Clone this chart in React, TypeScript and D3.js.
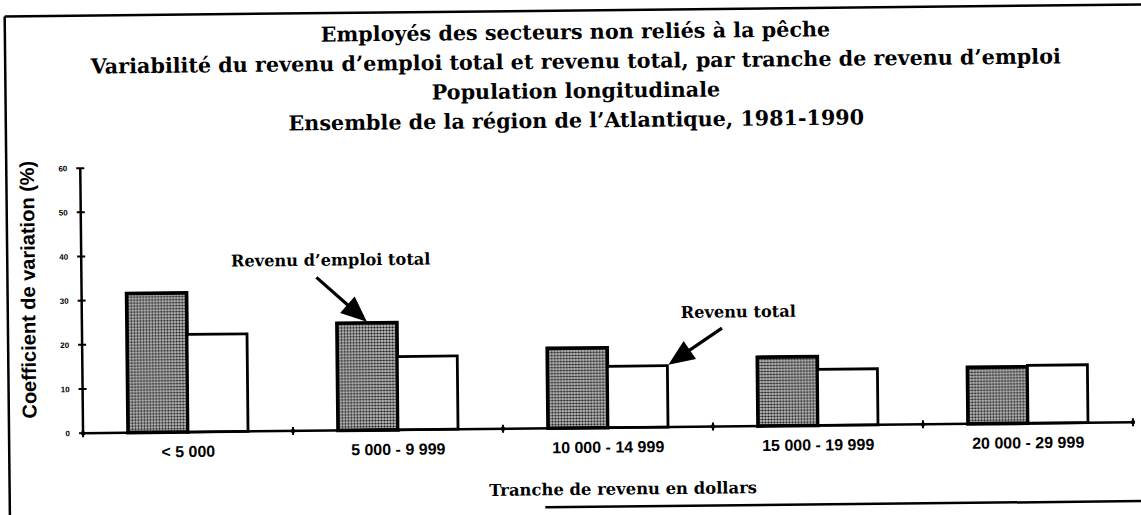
import React from "react";
import * as d3 from "d3";

const categories = ["< 5 000", "5 000 - 9 999", "10 000 - 14 999", "15 000 - 19 999", "20 000 - 29 999"];
const seriesKeys = ["emploi", "total"];
const revenuEmploiTotal = [31.5, 24.3, 18.1, 15.6, 12.8];
const revenuTotal = [22.1, 16.6, 13.9, 12.7, 13.1];
const yTicks = [0, 10, 20, 30, 40, 50, 60];
const titleLines = [
  "Employés des secteurs non reliés à la pêche",
  "Variabilité du revenu d’emploi total et revenu total, par tranche de revenu d’emploi",
  "Population longitudinale",
  "Ensemble de la région de l’Atlantique, 1981-1990",
];
const yAxisTitle = "Coefficient de variation (%)";
const xAxisTitle = "Tranche de revenu en dollars";
const annotEmploi = "Revenu d’emploi total";
const annotTotal = "Revenu total";

const W = 1141;
const H = 515;
const serif = "'DejaVu Serif', serif";
const sans = "'Liberation Sans', Arial, sans-serif";

function Arrow({ x1, y1, x2, y2 }: { x1: number; y1: number; x2: number; y2: number }) {
  const ang = Math.atan2(y2 - y1, x2 - x1);
  const len = 26;
  const hw = 11;
  const bx = x2 - len * Math.cos(ang);
  const by = y2 - len * Math.sin(ang);
  const px = -Math.sin(ang) * hw;
  const py = Math.cos(ang) * hw;
  return (
    <g>
      <line x1={x1} y1={y1} x2={bx + 2 * Math.cos(ang)} y2={by + 2 * Math.sin(ang)} stroke="#000" strokeWidth={3.2} />
      <polygon points={`${x2},${y2} ${bx + px},${by + py} ${bx - px},${by - py}`} fill="#000" />
    </g>
  );
}

export default function App() {
  const xLeft = 78.5, xRight = 1128.5, yBottom = 434, yTop = 169;
  const x = d3.scaleBand<string>().domain(categories).range([xLeft, xRight]).paddingInner(0.4286).paddingOuter(0.2143);
  const xs = d3.scaleBand<string>().domain(seriesKeys).range([0, x.bandwidth()]);
  const y = d3.scaleLinear().domain([0, 60]).range([yBottom, yTop]);
  const step = x.step();
  const gap = (step - x.bandwidth()) / 2;
  const boundaries = categories.map((c) => (x(c) as number) - gap).concat([xRight]);

  const data = categories.map((c, i) => ({ c, emploi: revenuEmploiTotal[i], total: revenuTotal[i] }));

  const g2x = (x(categories[1]) as number) + (xs("emploi") as number) + xs.bandwidth() / 2;
  const g2y = y(revenuEmploiTotal[1]);
  const g3x = (x(categories[2]) as number) + (xs("total") as number) + xs.bandwidth();
  const g3y = y(revenuTotal[2]);

  return (
    <svg width={W} height={H} style={{ position: "absolute", left: 0, top: 0, background: "#fff" }}>
      <defs>
        <pattern id="stip" width={3} height={3} patternUnits="userSpaceOnUse">
          <rect width={3} height={3} fill="#bdbdbd" />
          <circle cx={1.5} cy={1.5} r={1.1} fill="#111" />
        </pattern>
      </defs>
      <rect width={W} height={H} fill="#fff" />
      <g transform="rotate(-0.6)">
        {/* frame */}
        <line x1={4.5} y1={16.5} x2={1160} y2={16.5} stroke="#000" strokeWidth={2.5} />
        <line x1={4.5} y1={16.5} x2={4.5} y2={530} stroke="#000" strokeWidth={2.5} />
        <line x1={540} y1={513} x2={1160} y2={513} stroke="#000" strokeWidth={2.5} />

        {/* titles */}
        {titleLines.map((t, i) => (
          <text key={i} x={575} y={45 + i * 29.5} textAnchor="middle" fontFamily={serif} fontWeight="bold" fontSize={20.7} fill="#000">
            {t}
          </text>
        ))}

        {/* bars */}
        {data.map((d) => (
          <g key={d.c} transform={`translate(${x(d.c)},0)`}>
            <rect x={xs("emploi")} y={y(d.emploi)} width={xs.bandwidth()} height={y(0) - y(d.emploi)} fill="url(#stip)" stroke="#000" strokeWidth={3.6} />
            <rect x={xs("total")} y={y(d.total)} width={xs.bandwidth()} height={y(0) - y(d.total)} fill="#fff" stroke="#000" strokeWidth={2.8} />
          </g>
        ))}

        {/* y axis */}
        <line x1={xLeft} y1={y(0)} x2={xLeft} y2={y(60)} stroke="#000" strokeWidth={2.5} />
        {yTicks.map((t) => (
          <g key={t}>
            <line x1={xLeft - 4} x2={xLeft + 4} y1={y(t)} y2={y(t)} stroke="#000" strokeWidth={2} />
            <text x={xLeft - 13} y={y(t) + 3} textAnchor="end" fontFamily={sans} fontWeight="bold" fontSize={8}>
              {t}
            </text>
          </g>
        ))}
        <text transform={`translate(32,290) rotate(-90)`} textAnchor="middle" fontFamily={sans} fontWeight="bold" fontSize={20}>
          {yAxisTitle}
        </text>

        {/* x axis */}
        <line x1={xLeft} y1={y(0)} x2={xRight} y2={y(0)} stroke="#000" strokeWidth={2.5} />
        {boundaries.map((b, i) => (
          <g key={i}>
            <line x1={b} x2={b} y1={y(0) - 4} y2={y(0) + 4} stroke="#000" strokeWidth={2} />
            <circle cx={b} cy={y(0)} r={2.2} fill="#000" />
          </g>
        ))}
        {categories.map((c) => (
          <text key={c} x={(x(c) as number) + x.bandwidth() / 2} y={y(0) + 25} textAnchor="middle" fontFamily={sans} fontWeight="bold" fontSize={16}>
            {c}
          </text>
        ))}
        <text x={618} y={501} textAnchor="middle" fontFamily={serif} fontWeight="bold" fontSize={16.4}>
          {xAxisTitle}
        </text>

        {/* annotations */}
        <text x={328} y={269} textAnchor="middle" fontFamily={serif} fontWeight="bold" fontSize={16.2}>
          {annotEmploi}
        </text>
        <Arrow x1={g2x - 50} y1={g2y - 46} x2={g2x} y2={g2y - 1} />
        <text x={735} y={325} textAnchor="middle" fontFamily={serif} fontWeight="bold" fontSize={16.2}>
          {annotTotal}
        </text>
        <Arrow x1={g3x + 55} y1={g3y - 37} x2={g3x + 1} y2={g3y - 1} />
      </g>
    </svg>
  );
}
